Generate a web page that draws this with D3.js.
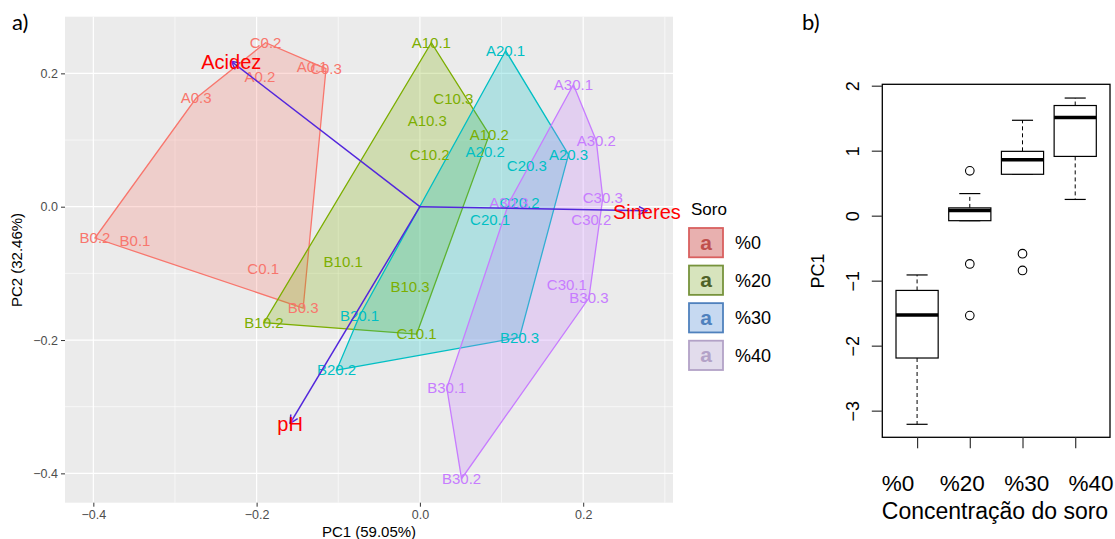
<!DOCTYPE html>
<html>
<head>
<meta charset="utf-8">
<script src="https://cdn.jsdelivr.net/npm/d3@7"></script>
<style>
  body { margin: 0; background: #fff; }
  text { font-family: "Liberation Sans", Arial, sans-serif; }
</style>
</head>
<body>
<div id="myChart"></div>
<script>
// ---- data: PCA scores (panel a) ----
const soroLevels = ["%0", "%20", "%30", "%40"];

const sampleNames = [
  "A0.1", "A0.2", "A0.3", "B0.1", "B0.2", "B0.3", "C0.1", "C0.2", "C0.3",
  "A10.1", "A10.2", "A10.3", "B10.1", "B10.2", "B10.3", "C10.1", "C10.2", "C10.3",
  "A20.1", "A20.2", "A20.3", "B20.1", "B20.2", "B20.3", "C20.1", "C20.2", "C20.3",
  "A30.1", "A30.2", "A30.3", "B30.1", "B30.2", "B30.3", "C30.1", "C30.2", "C30.3"
];
const sampleSoro = [
  "%0", "%0", "%0", "%0", "%0", "%0", "%0", "%0", "%0",
  "%20", "%20", "%20", "%20", "%20", "%20", "%20", "%20", "%20",
  "%30", "%30", "%30", "%30", "%30", "%30", "%30", "%30", "%30",
  "%40", "%40", "%40", "%40", "%40", "%40", "%40", "%40", "%40"
];
const pc1Scores = [
  -0.132, -0.196, -0.274, -0.349, -0.398, -0.143, -0.192, -0.189, -0.115,
  0.014, 0.085, 0.009, -0.094, -0.191, -0.012, -0.004, 0.012, 0.041,
  0.105, 0.080, 0.182, -0.074, -0.102, 0.122, 0.086, 0.122, 0.131,
  0.188, 0.216, 0.109, 0.033, 0.051, 0.207, 0.180, 0.210, 0.224
];
const pc2Scores = [
  0.210, 0.195, 0.163, -0.051, -0.047, -0.152, -0.093, 0.246, 0.207,
  0.246, 0.108, 0.129, -0.083, -0.174, -0.120, -0.191, 0.078, 0.162,
  0.234, 0.083, 0.078, -0.164, -0.245, -0.196, -0.019, 0.006, 0.062,
  0.183, 0.099, 0.006, -0.272, -0.408, -0.137, -0.117, -0.020, 0.013
];

// loadings (arrows)
const variables = ["Acidez", "pH", "Sineres"];
const loadPC1 = [-0.231, -0.159, 0.278];
const loadPC2 = [0.218, -0.325, -0.006];

// ---- data: boxplot of PC1 (panel b) ----
const whiskerLow  = [-3.21, -0.077, 0.637, 0.25];
const quart1      = [-2.19, -0.077, 0.637, 0.912];
const medians     = [-1.53, 0.08, 0.86, 1.51];
const quart3      = [-1.15, 0.12, 0.99, 1.695];
const whiskerHigh = [-0.912, 0.34, 1.468, 1.81];
const outliers    = [[], [0.69, -0.743, -1.537], [-0.585, -0.843], []];

// colours
const hullColors = ["#F8766D", "#7CAE00", "#00BFC4", "#C77CFF"];
const keyFill    = ["#E8B0AF", "#D7E4BD", "#C6D9F1", "#E2DCEC"];
const keyStroke  = ["#D9605F", "#77933C", "#4F81BD", "#B3A2C7"];
const keyText    = ["#C0504D", "#4F6228", "#4F81BD", "#B3A2C7"];
const arrowColor = "#5226DC";

let svg = d3.select("#myChart")
  .append("svg")
    .attr("width", 1115)
    .attr("height", 539);

// ================= panel a =================
let x = d3.scaleLinear().domain([-0.4347, 0.31]).range([65, 673]);
let y = d3.scaleLinear().domain([-0.444, 0.285]).range([502.7, 16.7]);
let color = d3.scaleOrdinal().domain(soroLevels).range(hullColors);

svg.append("text")
  .attr("x", 12).attr("y", 30)
  .style("font-family", "Lato, 'Open Sans', sans-serif")
  .style("font-size", "22px")
  .text("a)");

svg.append("rect")
  .attr("x", 65).attr("y", 16.7)
  .attr("width", 673 - 65).attr("height", 502.7 - 16.7)
  .attr("fill", "#EBEBEB");

// grid lines
let grid = svg.append("g");
[-0.3, -0.1, 0.1, 0.3].forEach(v => grid.append("line")
  .attr("x1", x(v)).attr("x2", x(v)).attr("y1", 16.7).attr("y2", 502.7)
  .attr("stroke", "#fff").attr("stroke-width", 0.6));
[-0.3, -0.1, 0.1].forEach(v => grid.append("line")
  .attr("y1", y(v)).attr("y2", y(v)).attr("x1", 65).attr("x2", 673)
  .attr("stroke", "#fff").attr("stroke-width", 0.6));
[-0.4, -0.2, 0, 0.2].forEach(v => {
  grid.append("line")
    .attr("x1", x(v)).attr("x2", x(v)).attr("y1", 16.7).attr("y2", 502.7)
    .attr("stroke", "#fff").attr("stroke-width", 1.2);
  grid.append("line")
    .attr("y1", y(v)).attr("y2", y(v)).attr("x1", 65).attr("x2", 673)
    .attr("stroke", "#fff").attr("stroke-width", 1.2);
});

// axes
let fmt = d3.format(".1f");
let xAxis = svg.append("g")
  .attr("transform", "translate(0,502.7)")
  .call(d3.axisBottom(x).tickValues([-0.4, -0.2, 0, 0.2]).tickFormat(fmt).tickSize(4).tickPadding(3));
let yAxis = svg.append("g")
  .attr("transform", "translate(65,0)")
  .call(d3.axisLeft(y).tickValues([-0.4, -0.2, 0, 0.2]).tickFormat(fmt).tickSize(4).tickPadding(3));
[xAxis, yAxis].forEach(a => {
  a.select(".domain").remove();
  a.selectAll("line").attr("stroke", "#333");
  a.selectAll("text").attr("fill", "#4D4D4D").style("font-size", "12.5px");
});

svg.append("text")
  .attr("x", 369).attr("y", 537)
  .attr("text-anchor", "middle")
  .style("font-size", "15px")
  .text("PC1 (59.05%)");
svg.append("text")
  .attr("transform", "translate(22,260) rotate(-90)")
  .attr("text-anchor", "middle")
  .style("font-size", "15px")
  .text("PC2 (32.46%)");

// points grouped
let points = sampleNames.map((n, i) => ({ name: n, soro: sampleSoro[i], pc1: pc1Scores[i], pc2: pc2Scores[i] }));

let hulls = svg.append("g");
soroLevels.forEach(g => {
  let pts = points.filter(p => p.soro === g).map(p => [x(p.pc1), y(p.pc2)]);
  let hull = d3.polygonHull(pts);
  hulls.append("path")
    .attr("d", "M" + hull.join("L") + "Z")
    .attr("fill", color(g))
    .attr("fill-opacity", 0.25)
    .attr("stroke", color(g))
    .attr("stroke-width", 1.3);
});

svg.append("g")
  .selectAll("text")
  .data(points)
  .enter()
  .append("text")
    .attr("x", d => x(d.pc1))
    .attr("y", d => y(d.pc2))
    .attr("dy", "0.36em")
    .attr("text-anchor", "middle")
    .attr("fill", d => color(d.soro))
    .style("font-size", "15px")
    .text(d => d.name);

// arrows
let defs = svg.append("defs");
defs.append("marker")
  .attr("id", "arrowhead")
  .attr("viewBox", "0 0 10 10")
  .attr("refX", 9).attr("refY", 5)
  .attr("markerWidth", 10).attr("markerHeight", 10)
  .attr("markerUnits", "userSpaceOnUse")
  .attr("orient", "auto")
  .append("path")
    .attr("d", "M1,1 L9,5 L1,9")
    .attr("fill", "none")
    .attr("stroke", arrowColor)
    .attr("stroke-width", 1.5);

let loads = variables.map((v, i) => ({ name: v, pc1: loadPC1[i], pc2: loadPC2[i] }));
svg.append("g")
  .selectAll("line")
  .data(loads)
  .enter()
  .append("line")
    .attr("x1", x(0)).attr("y1", y(0))
    .attr("x2", d => x(d.pc1)).attr("y2", d => y(d.pc2))
    .attr("stroke", arrowColor)
    .attr("stroke-width", 1.5)
    .attr("marker-end", "url(#arrowhead)");

svg.append("g")
  .selectAll("text")
  .data(loads)
  .enter()
  .append("text")
    .attr("x", d => x(d.pc1))
    .attr("y", d => y(d.pc2))
    .attr("dy", "0.4em")
    .attr("text-anchor", "middle")
    .attr("fill", "#FF0000")
    .style("font-size", "20px")
    .text(d => d.name);

// legend
svg.append("text")
  .attr("x", 691).attr("y", 215)
  .style("font-size", "17px")
  .text("Soro");
let keyY = d3.scaleBand().domain(soroLevels).range([228, 370]).paddingInner(0.22).paddingOuter(0);
let key = svg.append("g")
  .selectAll("g")
  .data(soroLevels)
  .enter()
  .append("g")
    .attr("transform", d => "translate(689," + keyY(d) + ")");
key.append("rect")
  .attr("width", 34).attr("height", keyY.bandwidth())
  .attr("fill", (d, i) => keyFill[i])
  .attr("stroke", (d, i) => keyStroke[i])
  .attr("stroke-width", 1.8);
key.append("text")
  .attr("x", 17).attr("y", keyY.bandwidth() / 2)
  .attr("dy", "0.33em")
  .attr("text-anchor", "middle")
  .attr("fill", (d, i) => keyText[i])
  .style("font-size", "21px")
  .style("font-weight", "bold")
  .text("a");
key.append("text")
  .attr("x", 46).attr("y", keyY.bandwidth() / 2)
  .attr("dy", "0.36em")
  .style("font-size", "18px")
  .text(d => d);

// ================= panel b =================
let bx = d3.scaleLinear().domain([0.34, 4.66]).range([882.3, 1110]);
let by = d3.scaleLinear().domain([-3.41, 2.0215]).range([437.3, 84.3]);

svg.append("text")
  .attr("x", 802).attr("y", 30)
  .style("font-family", "Lato, 'Open Sans', sans-serif")
  .style("font-size", "22px")
  .text("b)");

let boxes = soroLevels.map((g, i) => ({
  pos: i + 1, lo: whiskerLow[i], q1: quart1[i], med: medians[i],
  q3: quart3[i], hi: whiskerHigh[i], out: outliers[i]
}));

let bp = svg.append("g");
boxes.forEach(b => {
  // whiskers
  bp.append("line")
    .attr("x1", bx(b.pos)).attr("x2", bx(b.pos))
    .attr("y1", by(b.q3)).attr("y2", by(b.hi))
    .attr("stroke", "#000").attr("stroke-dasharray", "4,3");
  bp.append("line")
    .attr("x1", bx(b.pos)).attr("x2", bx(b.pos))
    .attr("y1", by(b.q1)).attr("y2", by(b.lo))
    .attr("stroke", "#000").attr("stroke-dasharray", "4,3");
  [b.lo, b.hi].forEach(v => bp.append("line")
    .attr("x1", bx(b.pos - 0.2)).attr("x2", bx(b.pos + 0.2))
    .attr("y1", by(v)).attr("y2", by(v))
    .attr("stroke", "#000").attr("stroke-width", 1.2));
  bp.append("rect")
    .attr("x", bx(b.pos - 0.4)).attr("width", bx(b.pos + 0.4) - bx(b.pos - 0.4))
    .attr("y", by(b.q3)).attr("height", by(b.q1) - by(b.q3))
    .attr("fill", "#fff").attr("stroke", "#000").attr("stroke-width", 1.2);
  bp.append("line")
    .attr("x1", bx(b.pos - 0.4)).attr("x2", bx(b.pos + 0.4))
    .attr("y1", by(b.med)).attr("y2", by(b.med))
    .attr("stroke", "#000").attr("stroke-width", 3.5);
  b.out.forEach(v => bp.append("circle")
    .attr("cx", bx(b.pos)).attr("cy", by(v)).attr("r", 4.3)
    .attr("fill", "none").attr("stroke", "#000").attr("stroke-width", 1.1));
});

svg.append("rect")
  .attr("x", 882.3).attr("y", 84.3)
  .attr("width", 1110 - 882.3).attr("height", 437.3 - 84.3)
  .attr("fill", "none").attr("stroke", "#000").attr("stroke-width", 1.3);

let byAxis = svg.append("g")
  .attr("transform", "translate(882.3,0)")
  .call(d3.axisLeft(by).tickValues([-3, -2, -1, 0, 1, 2]).tickFormat(d3.format("d")).tickSize(10.5));
byAxis.select(".domain").remove();
byAxis.selectAll("line").attr("stroke", "#333").attr("stroke-width", 1.2);
byAxis.selectAll("text")
  .attr("x", 0).attr("dy", "0.35em")
  .attr("transform", "translate(-30,0) rotate(-90)")
  .attr("text-anchor", "middle")
  .attr("fill", "#000")
  .style("font-size", "18px");

let bxAxis = svg.append("g")
  .attr("transform", "translate(0,437.3)")
  .call(d3.axisBottom(bx).tickValues([1, 2, 3, 4]).tickFormat("").tickSize(11));
bxAxis.select(".domain").remove();
bxAxis.selectAll("line").attr("stroke", "#333").attr("stroke-width", 1.2);

let labelX = d3.scalePoint().domain(soroLevels).range([898, 1091]);
svg.append("g")
  .selectAll("text")
  .data(soroLevels)
  .enter()
  .append("text")
    .attr("x", d => labelX(d))
    .attr("y", 491)
    .attr("text-anchor", "middle")
    .style("font-size", "22.5px")
    .text(d => d);

svg.append("text")
  .attr("x", 995).attr("y", 519)
  .attr("text-anchor", "middle")
  .style("font-size", "23px")
  .text("Concentração do soro");

svg.append("text")
  .attr("transform", "translate(824,271) rotate(-90)")
  .attr("text-anchor", "middle")
  .style("font-size", "18px")
  .text("PC1");
</script>
</body>
</html>
